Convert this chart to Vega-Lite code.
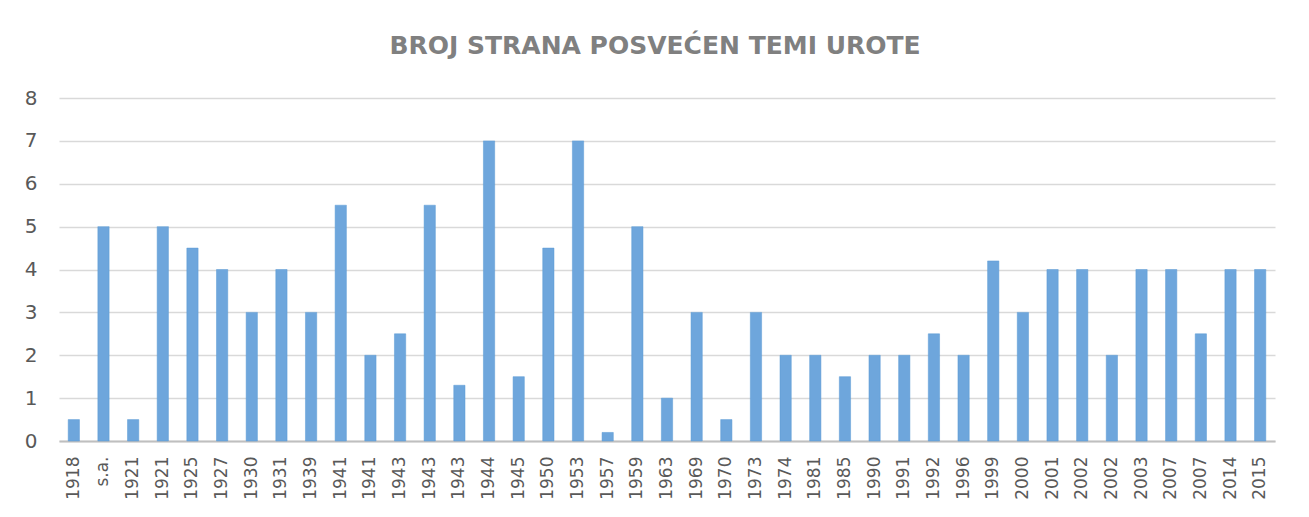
{
  "$schema": "https://vega.github.io/schema/vega-lite/v6.json",
  "autosize": "none",
  "width": 1216,
  "height": 343,
  "padding": {"left": 59, "top": 98, "right": 34, "bottom": 76},
  "background": "white",
  "title": {
    "text": "BROJ STRANA POSVEĆEN TEMI UROTE",
    "anchor": "middle",
    "dx": -12,
    "offset": 29,
    "font": "DejaVu Sans",
    "fontSize": 25,
    "fontWeight": "bold",
    "color": "#808080"
  },
  "data": {
    "values": [
      {"godina": "1918", "strana": 0.5},
      {"godina": "s.a.", "strana": 5},
      {"godina": "1921", "strana": 0.5},
      {"godina": "1921\u200b", "strana": 5},
      {"godina": "1925", "strana": 4.5},
      {"godina": "1927", "strana": 4},
      {"godina": "1930", "strana": 3},
      {"godina": "1931", "strana": 4},
      {"godina": "1939", "strana": 3},
      {"godina": "1941", "strana": 5.5},
      {"godina": "1941\u200b", "strana": 2},
      {"godina": "1943", "strana": 2.5},
      {"godina": "1943\u200b", "strana": 5.5},
      {"godina": "1943\u200b\u200b", "strana": 1.3},
      {"godina": "1944", "strana": 7},
      {"godina": "1945", "strana": 1.5},
      {"godina": "1950", "strana": 4.5},
      {"godina": "1953", "strana": 7},
      {"godina": "1957", "strana": 0.2},
      {"godina": "1959", "strana": 5},
      {"godina": "1963", "strana": 1},
      {"godina": "1969", "strana": 3},
      {"godina": "1970", "strana": 0.5},
      {"godina": "1973", "strana": 3},
      {"godina": "1974", "strana": 2},
      {"godina": "1981", "strana": 2},
      {"godina": "1985", "strana": 1.5},
      {"godina": "1990", "strana": 2},
      {"godina": "1991", "strana": 2},
      {"godina": "1992", "strana": 2.5},
      {"godina": "1996", "strana": 2},
      {"godina": "1999", "strana": 4.2},
      {"godina": "2000", "strana": 3},
      {"godina": "2001", "strana": 4},
      {"godina": "2002", "strana": 4},
      {"godina": "2002\u200b", "strana": 2},
      {"godina": "2003", "strana": 4},
      {"godina": "2007", "strana": 4},
      {"godina": "2007\u200b", "strana": 2.5},
      {"godina": "2014", "strana": 4},
      {"godina": "2015", "strana": 4}
    ]
  },
  "mark": {"type": "bar", "color": "#6EA6DC", "stroke": "#5B9BD5", "strokeWidth": 0.5},
  "encoding": {
    "x": {
      "field": "godina",
      "type": "nominal",
      "sort": null,
      "scale": {"paddingInner": 0.62, "paddingOuter": 0.31},
      "axis": {
        "title": null,
        "labelAngle": -90,
        "labelFont": "DejaVu Sans",
        "labelFontSize": 17,
        "labelColor": "#595959",
        "labelPadding": 15,
        "ticks": false,
        "tickSize": 0,
        "domainColor": "#bfbfbf",
        "domainWidth": 2,
        "grid": false
      }
    },
    "y": {
      "field": "strana",
      "type": "quantitative",
      "scale": {"domain": [0, 8], "nice": false},
      "axis": {
        "title": null,
        "values": [0, 1, 2, 3, 4, 5, 6, 7, 8],
        "labelFont": "DejaVu Sans",
        "labelFontSize": 20,
        "labelColor": "#595959",
        "labelPadding": 22,
        "ticks": false,
        "tickSize": 0,
        "domain": false,
        "grid": true,
        "gridColor": "#d9d9d9",
        "gridWidth": 1.3
      }
    }
  },
  "config": {"view": {"stroke": null}}
}
